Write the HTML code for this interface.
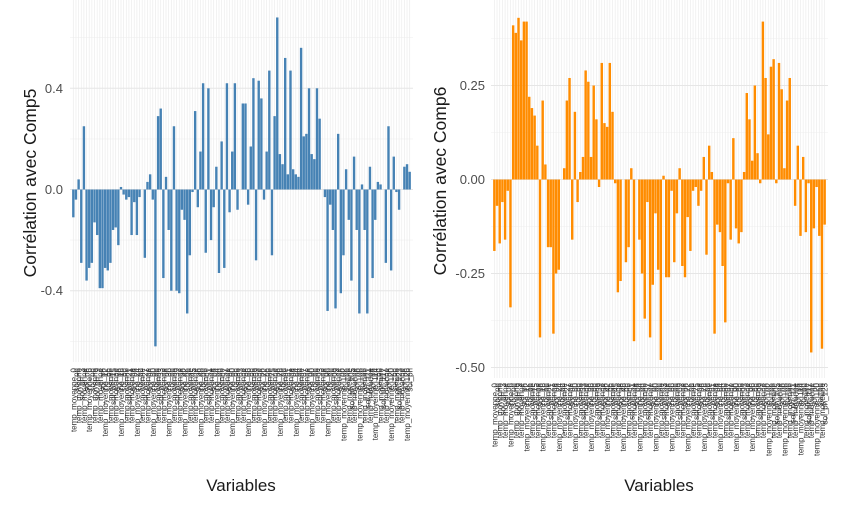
<!DOCTYPE html>
<html><head><meta charset="utf-8">
<style>
html,body{margin:0;padding:0;background:#fff;}
svg{display:block;font-family:"Liberation Sans",sans-serif;}
</style></head>
<body>
<svg id="chart" width="847" height="510" viewBox="0 0 847 510" xmlns="http://www.w3.org/2000/svg">
<rect x="0" y="0" width="847" height="510" fill="#fff"/>
<g id="left"></g>
<g id="right"></g>
<text x="36" y="183" transform="rotate(-90 36 183)" text-anchor="middle" font-size="17.5" fill="#1a1a1a">Corrélation avec Comp5</text>
<text x="446" y="181" transform="rotate(-90 446 181)" text-anchor="middle" font-size="17.5" fill="#1a1a1a">Corrélation avec Comp6</text>
<text x="241" y="491" text-anchor="middle" font-size="17" fill="#1a1a1a">Variables</text>
<text x="659" y="491" text-anchor="middle" font-size="17" fill="#1a1a1a">Variables</text>
</svg>
<script>
const comp5Values = [-0.11,-0.04,0.04,-0.29,0.25,-0.36,-0.31,-0.29,-0.13,-0.18,
-0.39,-0.39,-0.31,-0.32,-0.29,-0.16,-0.15,-0.22,0.01,-0.02,
-0.04,-0.03,-0.18,-0.05,-0.18,-0.03,0,-0.27,0.03,0.06,
-0.04,-0.62,0.29,0.32,-0.35,0.05,-0.16,-0.40,0.25,-0.40,
-0.41,-0.08,-0.12,-0.49,-0.26,-0.01,0.31,-0.07,0.15,0.42,
-0.25,0.40,-0.20,-0.07,0.09,-0.33,0.19,-0.31,0.42,-0.09,0.15,
0.42,-0.08,0,0.34,0.34,-0.06,0.17,0.44,-0.28,0.43,
0.36,-0.04,0.15,0.47,-0.26,0.29,0.68,0.14,0.10,0.52,
0.06,0.47,0.08,0.06,0.05,0.56,0.21,0.22,0.40,0.14,
0.12,0.40,0.28,0,-0.03,-0.48,-0.06,-0.16,-0.47,0.22,
-0.41,-0.26,0.08,-0.12,-0.36,0.13,-0.16,-0.49,0.02,
-0.16,-0.49,0.09,-0.35,-0.12,0.03,0.02,0,-0.29,0.25,
-0.32,0.13,-0.01,-0.08,0,0.09,0.10,0.07];
const comp6Values = [-0.19,-0.07,-0.17,-0.06,-0.16,-0.03,-0.34,0.41,0.39,0.43,
0.37,0.42,0.42,0.22,0.19,0.17,0.09,-0.42,0.21,0.04,
-0.18,-0.18,-0.41,-0.25,-0.24,0,0.03,0.21,0.27,-0.16,
0.18,-0.06,0.02,0.06,0.29,0.26,0.06,0.25,0.16,-0.02,
0.31,0.15,0.14,0.31,0.18,-0.01,-0.30,-0.27,0,-0.22,
-0.18,0.03,-0.43,0,-0.16,-0.25,-0.37,-0.06,-0.42,-0.28,
-0.09,-0.24,-0.48,0.01,
-0.26,-0.26,-0.03,-0.22,-0.09,0.03,-0.23,-0.26,-0.10,-0.19,
-0.03,-0.02,-0.07,-0.03,0.06,-0.20,0.09,0.02,-0.41,-0.12,
-0.14,-0.23,-0.38,-0.01,-0.16,0.11,-0.13,-0.17,-0.14,0.02,
0.23,0.16,0.05,0.25,0.07,-0.01,0.42,0.27,0.12,0.30,
0.32,-0.01,0.31,0.24,0.03,0.21,0.27,0,-0.07,0.09,
-0.15,0.06,-0.14,-0.01,-0.46,-0.13,-0.02,-0.15,-0.45,-0.12];
const comp5Ticks = [0.4, 0.0, -0.4];
const comp5TickLabels = ["0.4", "0.0", "-0.4"];
const comp6Ticks = [0.25, 0.0, -0.25, -0.5];
const comp6TickLabels = ["0.25", "0.00", "-0.25", "-0.50"];
const namePool = ["rendement_ble","surface_agri","prod_mais","temp_moyenne","precip_annuelle","engrais_azote","irrigation","pop_rurale","rendement_riz","co2_agri","sol_ph","altitude_moy","prix_cereales","export_cereal"];

const NS = "http://www.w3.org/2000/svg";
function el(tag, attrs, parent){const e=document.createElementNS(NS,tag);for(const k in attrs)e.setAttribute(k,attrs[k]);parent.appendChild(e);return e;}

function panel(g, values, ticks, tickLabels, cfg){
  const n = values.length;
  const band = (cfg.x1 - cfg.x0) / n;
  const xPos = i => cfg.x0 + i * band;
  const yPos = v => cfg.yZero - v * cfg.pxPerUnit;
  for (let i=0;i<ticks.length;i++){
    const m = ticks[i] + cfg.step/2;
    const ly = el('line',{x1:cfg.x0-2,x2:cfg.x1+2,y1:yPos(m),y2:yPos(m),stroke:'#f0f0f0','stroke-width':0.6},g);
    
    
  }
  const lm = el('line',{x1:cfg.x0-2,x2:cfg.x1+2,y1:yPos(ticks[ticks.length-1]-cfg.step/2),y2:yPos(ticks[ticks.length-1]-cfg.step/2),stroke:'#f0f0f0','stroke-width':0.6},g);
  
  
  for (let i=0;i<n;i++){
    const cx = xPos(i)+band/2;
    const vl = el('line',{x1:cx,x2:cx,y1:cfg.top,y2:cfg.bottom,stroke:'#ececec','stroke-width':0.7},g);
    
    
  }
  for (let i=0;i<ticks.length;i++){
    const y = yPos(ticks[i]);
    const gl = el('line',{x1:cfg.x0-2,x2:cfg.x1+2,y1:y,y2:y,stroke:'#e6e6e6','stroke-width':1},g);
    
    
    const t = el('text',{x:cfg.labelX,y:y+4.5,'text-anchor':'end','font-size':13,fill:'#4d4d4d'},g);
    t.textContent = tickLabels[i];
    
    
  }
  for (let i=0;i<n;i++){
    const v = values[i];
    const y0 = yPos(Math.max(v,0)), y1 = yPos(Math.min(v,0));
    const r = el('rect',{x:xPos(i)+band*0.05,y:y0,width:band*0.9,height:Math.max(y1-y0,0.01),fill:cfg.color},g);
    
    
  }
  for (let i=0;i<n;i++){
    const cx = xPos(i)+band/2+3;
    const t = el('text',{x:cx,y:cfg.labelTop,transform:`rotate(-90 ${cx} ${cfg.labelTop})`,'text-anchor':'end','font-size':8,fill:'#333'},g);
    t.textContent = namePool[(i*7+3)%namePool.length] + (i%3===0?"_"+i:"");
    
    
  }
}
panel(document.getElementById('left'), comp5Values, comp5Ticks, comp5TickLabels,
  {x0:72,x1:411,top:0,bottom:362,yZero:189.5,pxPerUnit:253,step:0.4,labelX:63,labelTop:368,color:'#4682B4'});
panel(document.getElementById('right'), comp6Values, comp6Ticks, comp6TickLabels,
  {x0:493,x1:826,top:0,bottom:378,yZero:179.5,pxPerUnit:376,step:0.25,labelX:485,labelTop:383,color:'#FF8C00'});
</script>
</body></html>
